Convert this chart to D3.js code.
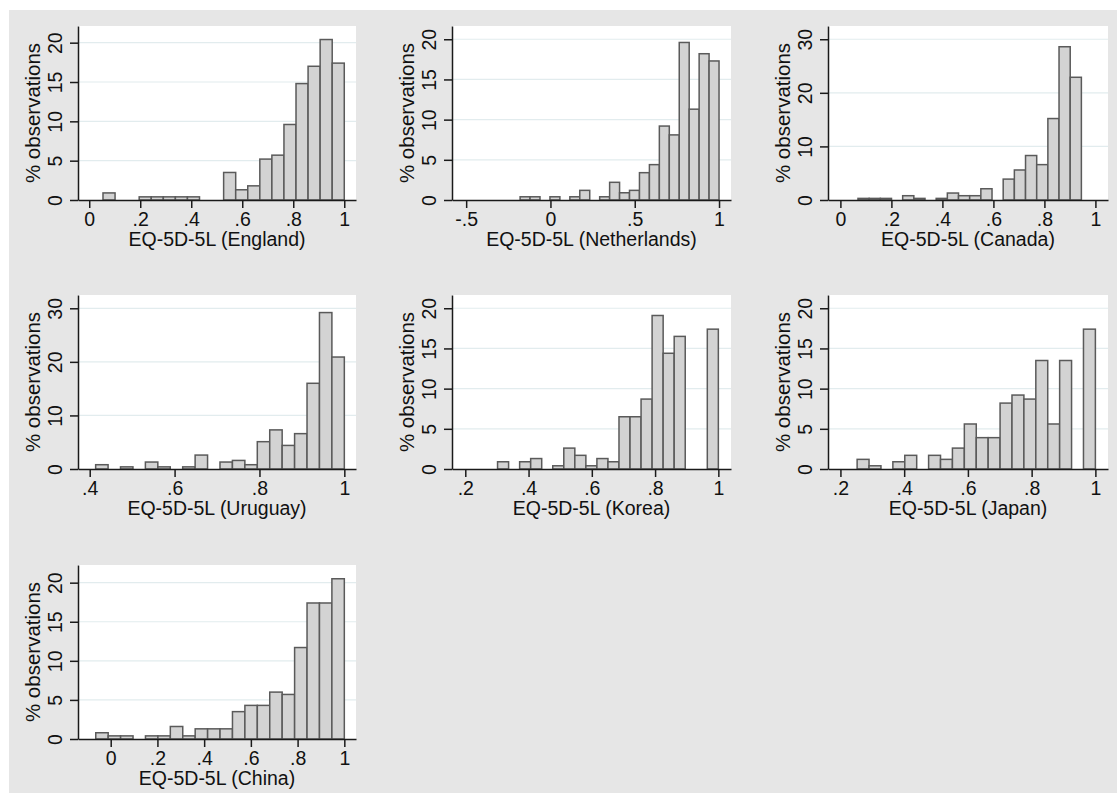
<!DOCTYPE html>
<html>
<head>
<meta charset="utf-8">
<script src="https://cdn.jsdelivr.net/npm/d3@7/dist/d3.min.js"></script>
<style>
  html, body { margin: 0; padding: 0; background: #ffffff; }
  svg { display: block; }
  text { font-family: "Liberation Sans", Arial, sans-serif; fill: #111111; }
</style>
</head>
<body>
<svg id="chart" width="1117" height="793"></svg>
<script>
// ---------------- DATA ----------------
const countries = ["England", "Netherlands", "Canada", "Uruguay", "Korea", "Japan", "China"];

// histogram bins: first bin start and bin width (EQ-5D-5L utility units), 20 bins each
const binStarts = [0.054, -0.18, 0.069, 0.414, 0.302, 0.2524, -0.064];
const binWidths = [0.0473, 0.059, 0.0438, 0.0293, 0.0349, 0.03738, 0.0532];

// % observations per bin
const englandPct     = [0.9, 0, 0, 0.4, 0.4, 0.4, 0.4, 0.4, 0, 0, 3.5, 1.3, 1.8, 5.2, 5.7, 9.6, 14.8, 17.0, 20.4, 17.4];
const netherlandsPct = [0.4, 0.4, 0, 0.4, 0, 0.4, 1.2, 0, 0.4, 2.2, 0.9, 1.2, 3.4, 4.4, 9.2, 8.1, 19.6, 11.3, 18.2, 17.3];
const canadaPct      = [0.3, 0.3, 0.3, 0, 0.8, 0.3, 0, 0.3, 1.3, 0.8, 0.8, 2.1, 0, 3.9, 5.6, 8.3, 6.6, 15.2, 28.6, 22.9];
const uruguayPct     = [0.8, 0, 0.4, 0, 1.3, 0.4, 0, 0.4, 2.6, 0, 1.3, 1.6, 0.8, 5.1, 7.3, 4.4, 6.6, 16.0, 29.2, 20.9];
const koreaPct       = [0.9, 0, 0.9, 1.3, 0, 0.4, 2.6, 1.7, 0.4, 1.3, 0.9, 6.5, 6.5, 8.7, 19.1, 14.4, 16.5, 0, 0, 17.4];
const japanPct       = [1.2, 0.4, 0, 0.9, 1.7, 0, 1.7, 1.2, 2.6, 5.6, 3.9, 3.9, 8.2, 9.2, 8.7, 13.5, 5.6, 13.5, 0, 17.4];
const chinaPct       = [0.8, 0.4, 0.4, 0, 0.4, 0.4, 1.6, 0.4, 1.3, 1.3, 1.3, 3.5, 4.3, 4.3, 6.0, 5.7, 11.7, 17.4, 17.4, 20.5];
const seriesPct = [englandPct, netherlandsPct, canadaPct, uruguayPct, koreaPct, japanPct, chinaPct];

// axis ranges and tick values
const xDomains = [[-0.044, 1.046], [-0.584, 1.071], [-0.0486, 1.0494], [0.3724, 1.0275], [0.158, 1.040], [0.161, 1.0396], [-0.140, 1.050]];
const yMaxes   = [22.12, 21.65, 32.47, 32.48, 21.65, 21.65, 22.26];
const xTicks = [
  [0, 0.2, 0.4, 0.6, 0.8, 1],
  [-0.5, 0, 0.5, 1],
  [0, 0.2, 0.4, 0.6, 0.8, 1],
  [0.4, 0.6, 0.8, 1],
  [0.2, 0.4, 0.6, 0.8, 1],
  [0.2, 0.4, 0.6, 0.8, 1],
  [0, 0.2, 0.4, 0.6, 0.8, 1]
];
const yTicks = [
  [0, 5, 10, 15, 20],
  [0, 5, 10, 15, 20],
  [0, 10, 20, 30],
  [0, 10, 20, 30],
  [0, 5, 10, 15, 20],
  [0, 5, 10, 15, 20],
  [0, 5, 10, 15, 20]
];
const yTitle = "% observations";
const xTitlePrefix = "EQ-5D-5L";

// ---------------- LAYOUT ----------------
const colLefts  = [78, 452, 828];
const colWidths = [278, 279, 280];
const rowTops   = [26, 295, 565];
const plotH = 174;
const fontSize = 19.5;
const yTitleSize = 20.5;

const svg = d3.select("#chart");
svg.append("rect").attr("x", 9).attr("y", 10).attr("width", 1117 - 9).attr("height", 793 - 10).attr("fill", "#e6e6e6");

const fmt = d => {
  if (d === 0) return "0";
  let s = String(+d.toFixed(2));
  return s.replace(/^(-?)0\./, "$1.");
};

countries.forEach((name, i) => {
  const col = i % 3, row = Math.floor(i / 3);
  const left = colLefts[col], width = colWidths[col], top = rowTops[row];
  const g = svg.append("g").attr("transform", `translate(${left},${top})`);

  const x = d3.scaleLinear().domain(xDomains[i]).range([0, width]);
  const y = d3.scaleLinear().domain([0, yMaxes[i]]).range([plotH, 0]);

  // plot region
  g.append("rect").attr("x", 0).attr("y", 0).attr("width", width).attr("height", plotH).attr("fill", "#ffffff");

  // gridlines
  g.selectAll("line.grid").data(yTicks[i].filter(t => t > 0)).join("line")
    .attr("class", "grid")
    .attr("x1", 0).attr("x2", width)
    .attr("y1", d => y(d)).attr("y2", d => y(d))
    .attr("stroke", "#e2ecee").attr("stroke-width", 1.2);

  // bars
  const start = binStarts[i], w = binWidths[i];
  const bins = seriesPct[i].map((v, k) => ({ x0: start + k * w, x1: start + (k + 1) * w, v }));
  g.selectAll("rect.bar").data(bins.filter(b => b.v > 0)).join("rect")
    .attr("class", "bar")
    .attr("x", d => x(d.x0))
    .attr("width", d => x(d.x1) - x(d.x0))
    .attr("y", d => y(d.v))
    .attr("height", d => y(0) - y(d.v))
    .attr("fill", "#d3d3d3")
    .attr("stroke", "#5a5a5a")
    .attr("stroke-width", 1.5);

  // x axis
  const xAxis = g.append("g").attr("transform", `translate(0,${plotH})`)
    .call(d3.axisBottom(x).tickValues(xTicks[i]).tickFormat(fmt).tickSize(8).tickSizeOuter(0));
  xAxis.select(".domain").attr("stroke", "#1a1a1a").attr("stroke-width", 1.5);
  xAxis.selectAll(".tick line").attr("stroke", "#1a1a1a").attr("stroke-width", 1.5);
  xAxis.selectAll(".tick text").attr("y", 26).attr("dy", null)
    .style("font-size", fontSize + "px").attr("fill", "#111111");

  // y axis
  const yAxis = g.append("g")
    .call(d3.axisLeft(y).tickValues(yTicks[i]).tickFormat(d3.format("d")).tickSize(8).tickSizeOuter(0));
  yAxis.select(".domain").attr("stroke", "#1a1a1a").attr("stroke-width", 1.5);
  yAxis.selectAll(".tick line").attr("stroke", "#1a1a1a").attr("stroke-width", 1.5);
  yAxis.selectAll(".tick text")
    .attr("transform", "rotate(-90)")
    .attr("x", 0).attr("y", -16).attr("dy", null)
    .attr("text-anchor", "middle")
    .style("font-size", fontSize + "px").attr("fill", "#111111");

  // titles
  g.append("text")
    .attr("x", width / 2).attr("y", plotH + 46)
    .attr("text-anchor", "middle")
    .style("font-size", fontSize + "px")
    .text(`${xTitlePrefix} (${name})`);

  g.append("text")
    .attr("transform", `translate(-38,${plotH / 2}) rotate(-90)`)
    .attr("text-anchor", "middle")
    .style("font-size", yTitleSize + "px")
    .text(yTitle);
});
</script>
</body>
</html>
